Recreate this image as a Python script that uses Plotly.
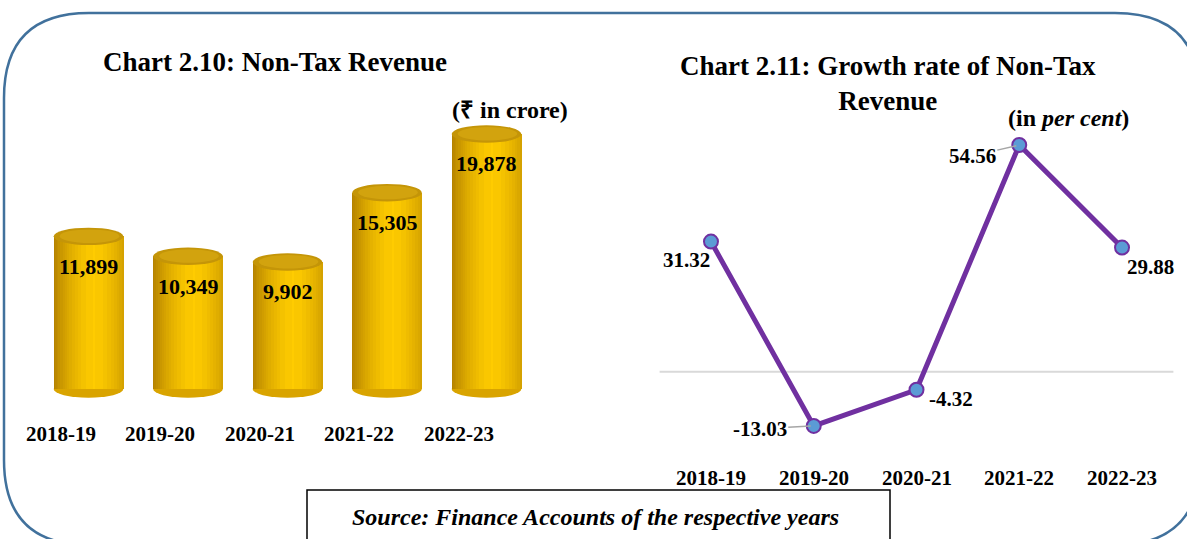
import plotly.graph_objects as go

# ---------------- data ----------------
years = ["2018-19", "2019-20", "2020-21", "2021-22", "2022-23"]
non_tax_revenue = [11899, 10349, 9902, 15305, 19878]          # ₹ in crore
growth_rate = [31.32, -13.03, -4.32, 54.56, 29.88]             # per cent

W, H = 1187, 539
SERIF = "Liberation Serif, Times New Roman, serif"

def px(x):  # pixel -> paper x
    return x / W

def py(y):  # pixel -> paper y
    return 1 - y / H

fig = go.Figure()

# ---------------- left chart: cylinders ----------------
BAR_W = 0.7
ELL = 680              # half height of cylinder caps in data units
idx = list(range(len(years)))

DARK = (176, 126, 0)
BRIGHT = (255, 204, 0)
PEAK = 0.58
M = 16
for j in range(M):
    f = j / (M - 1)
    half = (1 - f) ** 0.6 * 0.62
    a = max(0.0, PEAK - half)
    b = min(1.0, PEAK + half)
    if b - a < 0.03:
        a, b = PEAK - 0.015, PEAK + 0.015
    c = tuple(round(d + (br - d) * f) for d, br in zip(DARK, BRIGHT))
    fig.add_trace(go.Bar(
        x=idx, y=non_tax_revenue,
        width=(b - a) * BAR_W, offset=-BAR_W / 2 + a * BAR_W,
        marker=dict(color="rgb(%d,%d,%d)" % c, line=dict(width=0)),
        xaxis="x", yaxis="y", showlegend=False, hoverinfo="skip",
    ))

shapes = []
for i, v in zip(idx, non_tax_revenue):
    # bottom cap (below bars)
    shapes.append(dict(type="circle", xref="x", yref="y", layer="below",
                       x0=i - BAR_W / 2, x1=i + BAR_W / 2,
                       y0=-ELL, y1=ELL,
                       fillcolor="#D9A400", line=dict(width=0)))
    # top cap
    shapes.append(dict(type="circle", xref="x", yref="y", layer="above",
                       x0=i - BAR_W / 2, x1=i + BAR_W / 2,
                       y0=v - ELL, y1=v + ELL,
                       fillcolor="#C49508", line=dict(width=0)))
    shapes.append(dict(type="circle", xref="x", yref="y", layer="above",
                       x0=i - BAR_W / 2 + 0.06, x1=i + BAR_W / 2 - 0.04,
                       y0=v - ELL * 0.75, y1=v + ELL * 0.8,
                       fillcolor="#D2A30E", line=dict(width=0)))

annotations = []
for i, v in zip(idx, non_tax_revenue):
    annotations.append(dict(xref="x", yref="y", x=i, y=v, yshift=-30,
                            xanchor="center", yanchor="middle",
                            text="<b>%s</b>" % format(v, ","), showarrow=False,
                            font=dict(family=SERIF, size=22, color="black")))
    annotations.append(dict(xref="x", yref="paper", x=i, y=py(434), xshift=-28,
                            xanchor="center", yanchor="middle",
                            text="<b>%s</b>" % years[i], showarrow=False,
                            font=dict(family=SERIF, size=21, color="black")))

# ---------------- right chart: growth line ----------------
fig.add_trace(go.Scatter(
    x=idx, y=growth_rate, mode="lines+markers",
    line=dict(color="#7030A0", width=5),
    marker=dict(size=14, color="#5B9BD5", line=dict(color="#7030A0", width=2)),
    xaxis="x2", yaxis="y2", showlegend=False, hoverinfo="skip",
))

label_pos = {  # (xshift, yshift, arrow?)  yshift: positive = up
    0: (-24, -18, False),
    1: (-54, -3, True),
    2: (34, -9, False),
    3: (-47, -11, True),
    4: (28, -19, False),
}
for i, v in zip(idx, growth_rate):
    dx, dy, arrow = label_pos[i]
    txt = "<b>%.2f</b>" % v
    f = dict(family=SERIF, size=21, color="black")
    if arrow:
        annotations.append(dict(xref="x2", yref="y2", x=i, y=v, text=txt,
                                showarrow=True, ax=dx, ay=-dy, arrowhead=0,
                                arrowwidth=1.5, arrowcolor="#A6A6A6",
                                standoff=3, font=f))
    else:
        annotations.append(dict(xref="x2", yref="y2", x=i, y=v, text=txt,
                                xanchor="center", yanchor="middle",
                                showarrow=False, xshift=dx, yshift=dy, font=f))
    annotations.append(dict(xref="x2", yref="paper", x=i, y=py(478),
                            xanchor="center", yanchor="middle",
                            text="<b>%s</b>" % years[i], showarrow=False,
                            font=dict(family=SERIF, size=21, color="black")))

# ---------------- titles & texts ----------------
def txt_ann(x, y, text, size):
    return dict(xref="paper", yref="paper", x=px(x), y=py(y), showarrow=False,
                xanchor="center", yanchor="middle", text=text,
                font=dict(family=SERIF, size=size, color="black"))

annotations += [
    txt_ann(275, 62, "<b>Chart 2.10: Non-Tax Revenue</b>", 27),
    txt_ann(510, 110, "<b>(₹ in crore)</b>", 24),
    txt_ann(888, 83, "<b>Chart 2.11: Growth rate of Non-Tax<br>Revenue</b>", 27),
    txt_ann(1068, 118, "<b>(in <i>per cent</i>)</b>", 24),
    txt_ann(596, 517, "<b><i>Source: Finance Accounts of the respective years</i></b>", 24),
]

# zero line on right chart
shapes.append(dict(type="line", xref="x2 domain", yref="y2", x0=0, x1=1,
                   y0=0, y1=0, layer="below",
                   line=dict(color="#D9D9D9", width=2)))

# source box
shapes.append(dict(type="rect", xref="paper", yref="paper",
                   x0=px(307), x1=px(890), y0=py(560), y1=py(490),
                   line=dict(color="black", width=1.5), fillcolor="rgba(0,0,0,0)"))

# outer rounded frame
L, T, R, B, r = 4, 13, 1200, 545, 85
def P(x, y):
    return "%.5f,%.5f" % (px(x), py(y))
path = ("M " + P(L + r, T) + " L " + P(R - r, T) +
        " Q " + P(R, T) + " " + P(R, T + r) +
        " L " + P(R, B - r) +
        " Q " + P(R, B) + " " + P(R - r, B) +
        " L " + P(L + r, B) +
        " Q " + P(L, B) + " " + P(L, B - r) +
        " L " + P(L, T + r) +
        " Q " + P(L, T) + " " + P(L + r, T) + " Z")
shapes.append(dict(type="path", xref="paper", yref="paper", path=path,
                   line=dict(color="#41719C", width=2.5)))

fig.update_layout(
    width=W, height=H, margin=dict(l=0, r=0, t=0, b=0),
    paper_bgcolor="white", plot_bgcolor="rgba(0,0,0,0)",
    barmode="overlay", bargap=0,
    xaxis=dict(domain=[px(38.75), px(536.25)], range=[-0.5, 4.5], visible=False,
               fixedrange=True),
    yaxis=dict(domain=[py(414.7), py(81.1)], range=[-2000, 24000],
               visible=False, fixedrange=True),
    xaxis2=dict(domain=[px(659.6), px(1173.4)], range=[-0.5, 4.5],
                visible=False, anchor="y2"),
    yaxis2=dict(domain=[py(440), py(100)], range=[-16.41, 65.38],
                visible=False, anchor="x2"),
    shapes=shapes, annotations=annotations,
)

fig.write_html("out.html", config={"displayModeBar": False},
               post_script="document.body.style.margin='0';"
                           "document.body.style.overflow='hidden';")
